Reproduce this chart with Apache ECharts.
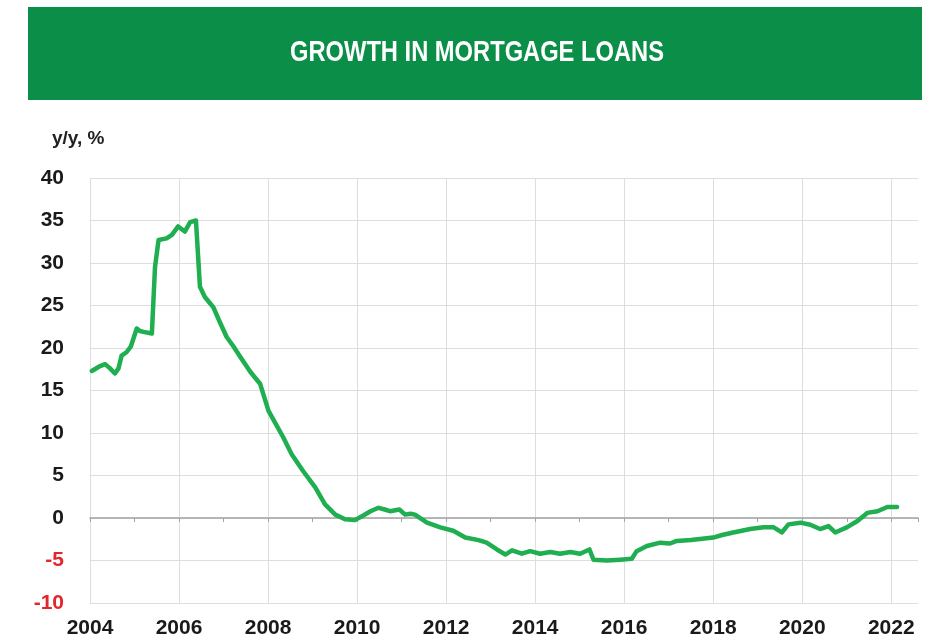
<!DOCTYPE html>
<html>
<head>
<meta charset="utf-8">
<script src="https://cdn.jsdelivr.net/npm/echarts@6/dist/echarts.min.js"></script>
<style>
html,body{margin:0;padding:0;background:#fff;}
#chart{width:932px;height:640px;}
</style>
</head>
<body>
<div id="chart"></div>
<script>
// Decimal years of each reading
var years = [2004.04,2004.2,2004.34,2004.45,2004.56,2004.64,2004.71,2004.82,2004.92,2005.05,2005.12,2005.2,2005.39,2005.46,2005.54,2005.72,2005.84,2005.98,2006.13,2006.25,2006.38,2006.47,2006.58,2006.77,2006.92,2007.07,2007.22,2007.37,2007.6,2007.82,2008.01,2008.16,2008.34,2008.53,2008.79,2009.06,2009.28,2009.51,2009.73,2009.95,2010.14,2010.3,2010.48,2010.62,2010.74,2010.95,2011.08,2011.2,2011.3,2011.57,2011.87,2012.16,2012.43,2012.73,2012.91,2013.14,2013.33,2013.48,2013.7,2013.89,2014.11,2014.34,2014.56,2014.79,2015.01,2015.22,2015.31,2015.61,2015.91,2016.17,2016.28,2016.51,2016.81,2017.03,2017.18,2017.5,2017.8,2018.0,2018.2,2018.45,2018.83,2019.13,2019.36,2019.54,2019.69,2019.96,2020.18,2020.4,2020.59,2020.74,2021.0,2021.24,2021.46,2021.69,2021.91,2022.13];
// Mortgage loan growth, y/y %
var growth = [17.3,17.8,18.1,17.6,17.0,17.6,19.1,19.5,20.2,22.3,22.0,21.9,21.7,29.5,32.7,32.9,33.3,34.3,33.7,34.8,35.0,27.2,26.0,24.8,23.0,21.3,20.2,19.0,17.2,15.8,12.6,11.2,9.5,7.5,5.5,3.6,1.6,0.4,-0.15,-0.25,0.3,0.8,1.2,1.0,0.8,1.0,0.4,0.5,0.4,-0.55,-1.1,-1.5,-2.3,-2.6,-2.9,-3.7,-4.3,-3.8,-4.2,-3.9,-4.2,-4.0,-4.2,-4.0,-4.2,-3.7,-4.9,-5.0,-4.9,-4.8,-3.9,-3.3,-2.9,-3.0,-2.7,-2.6,-2.4,-2.3,-2.0,-1.7,-1.3,-1.1,-1.1,-1.7,-0.75,-0.55,-0.8,-1.3,-0.95,-1.7,-1.1,-0.35,0.6,0.8,1.3,1.3];
var yTicks = [-10,-5,0,5,10,15,20,25,30,35,40];
var xTickYears = [2004,2006,2008,2010,2012,2014,2016,2018,2020,2022];
var titleText = 'GROWTH IN MORTGAGE LOANS';
var unitText = 'y/y, %';

var seriesData = years.map(function(y,i){return [y, growth[i]];});
var chart = echarts.init(document.getElementById('chart'), null, {renderer:'canvas'});
var labelFont = "'Liberation Sans', Arial, sans-serif";
chart.setOption({
  animation:false,
  backgroundColor:'#ffffff',
  graphic:[
    {type:'rect', left:28, top:7, shape:{width:894, height:93}, style:{fill:'#0b8e48'}, z:0},
    {type:'text', x:477, y:53, scaleX:0.79, style:{text:titleText, fill:'#ffffff', font:"bold 30px 'Liberation Sans', Arial, sans-serif", align:'center', verticalAlign:'middle'}},
    {type:'text', x:52, y:139, style:{text:unitText, fill:'#222222', font:"bold 19px " + labelFont, align:'left', verticalAlign:'middle'}}
  ],
  grid:{left:90, right:14, top:178, bottom:37, containLabel:false},
  xAxis:[
    {type:'value', min:2004, max:2022.6, interval:2, position:'bottom',
     axisLine:{show:false, onZero:false}, axisTick:{show:false},
     splitLine:{show:true, showMaxLine:false, lineStyle:{color:'#dedede', width:1}},
     axisLabel:{margin:15, color:'#1a1a1a', fontSize:21, fontWeight:'bold', fontFamily:labelFont,
       showMaxLabel:false,
       formatter:function(v){ return xTickYears.indexOf(Math.round(v))>=0 && Math.abs(v-Math.round(v))<1e-6 ? String(Math.round(v)) : ''; }}
    },
    {type:'value', min:2004, max:2022.6, interval:1, position:'bottom',
     axisLine:{show:true, onZero:true, lineStyle:{color:'#a3a3a3', width:1.5}},
     axisTick:{show:true, length:4, lineStyle:{color:'#a3a3a3', width:1}},
     splitLine:{show:false}, axisLabel:{show:false}}
  ],
  yAxis:{type:'value', min:-10, max:40, interval:5,
    axisLine:{show:false}, axisTick:{show:false},
    splitLine:{show:true, lineStyle:{color:'#dedede', width:1}},
    axisLabel:{margin:26, fontSize:21, fontWeight:'bold', fontFamily:labelFont,
      formatter:function(v){ return yTicks.indexOf(v)<0 ? '' : (v<0 ? '{neg|'+v+'}' : '{pos|'+v+'}'); },
      rich:{pos:{color:'#1a1a1a', fontSize:21, fontWeight:'bold', fontFamily:labelFont},
            neg:{color:'#e3262b', fontSize:21, fontWeight:'bold', fontFamily:labelFont}}}
  },
  series:[{type:'line', xAxisIndex:0, data:seriesData, showSymbol:false, symbol:'none',
    lineStyle:{color:'#1fae50', width:4.5, join:'round', cap:'round'}, z:5}]
});
</script>
</body>
</html>
